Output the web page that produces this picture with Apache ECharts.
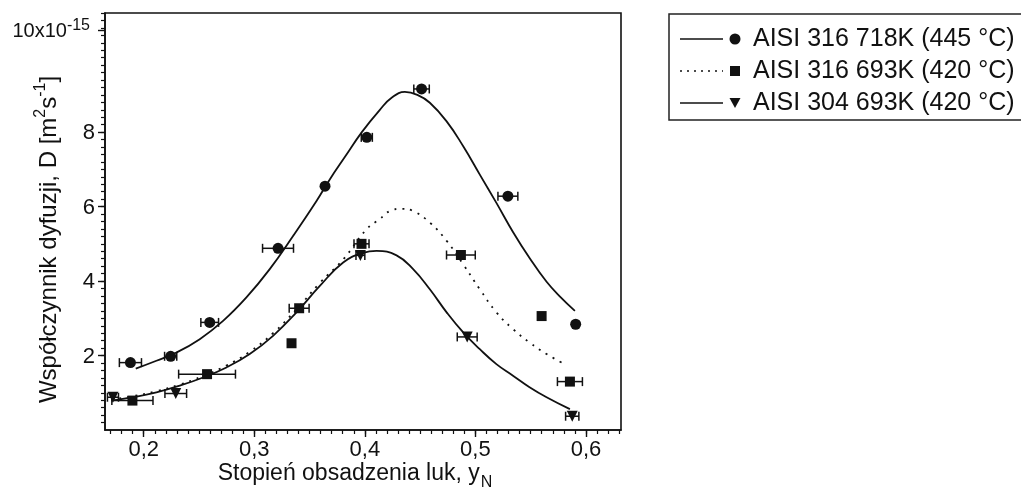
<!DOCTYPE html>
<html>
<head>
<meta charset="utf-8">
<script src="https://cdn.jsdelivr.net/npm/echarts@6/dist/echarts.min.js"></script>
<style>
  html, body { margin: 0; padding: 0; background: #ffffff; }
  #chart { width: 1021px; height: 491px; }
</style>
</head>
<body>
<div id="chart"></div>
<script>
// ---- measured points: x = occupancy y_N, y = D in 1e-15 m^2/s, xErr = half-width of the horizontal error bar
const seriesNames = ['AISI 316 718K (445 °C)', 'AISI 316 693K (420 °C)', 'AISI 304 693K (420 °C)'];

const x316_718 = [0.188, 0.2244, 0.2597, 0.3215, 0.364, 0.4018, 0.4513, 0.5294, 0.5907];
const y316_718 = [1.81, 1.98, 2.89, 4.88, 6.55, 7.86, 9.16, 6.28, 2.84];
const e316_718 = [0.010, 0.0055, 0.008, 0.014, 0, 0.005, 0.007, 0.009, 0];

const x316_693 = [0.1898, 0.2573, 0.3337, 0.3406, 0.397, 0.4869, 0.5599, 0.5855];
const y316_693 = [0.79, 1.50, 2.33, 3.27, 5.00, 4.70, 3.06, 1.30];
const e316_693 = [0.0186, 0.0257, 0, 0.009, 0.0068, 0.013, 0, 0.0113];

const x304_693 = [0.1722, 0.229, 0.396, 0.4926, 0.5876];
const y304_693 = [0.88, 0.98, 4.69, 2.50, 0.37];
const e304_693 = [0.005, 0.0098, 0.004, 0.009, 0.006];

// ---- fitted curves
const fitX316_718 = [0.1928, 0.2115, 0.2296, 0.2507, 0.2718, 0.2929, 0.314, 0.3351, 0.3563, 0.3683, 0.3819, 0.3973, 0.4136, 0.4245, 0.4362, 0.4475, 0.4588, 0.474, 0.489, 0.504, 0.519, 0.534, 0.549, 0.5644, 0.577, 0.590];
const fitY316_718 = [1.65, 1.86, 2.08, 2.44, 2.93, 3.56, 4.32, 5.21, 6.15, 6.73, 7.33, 8.00, 8.60, 8.93, 9.08, 9.00, 8.79, 8.29, 7.62, 6.86, 6.10, 5.32, 4.62, 3.98, 3.57, 3.20];

const fitX316_693 = [0.1708, 0.1903, 0.2115, 0.2326, 0.2537, 0.2748, 0.2959, 0.317, 0.3382, 0.3593, 0.3804, 0.4015, 0.4136, 0.4226, 0.4332, 0.4437, 0.4588, 0.474, 0.489, 0.504, 0.519, 0.534, 0.549, 0.5644, 0.5825];
const fitY316_693 = [0.82, 0.91, 1.04, 1.22, 1.45, 1.73, 2.10, 2.60, 3.24, 3.95, 4.58, 5.39, 5.67, 5.88, 5.94, 5.88, 5.57, 5.08, 4.45, 3.78, 3.16, 2.71, 2.35, 2.04, 1.74];

const fitX304_693 = [0.1708, 0.1903, 0.2115, 0.2326, 0.2537, 0.2748, 0.2959, 0.317, 0.3382, 0.3593, 0.3804, 0.3985, 0.4106, 0.4287, 0.4437, 0.4588, 0.474, 0.489, 0.504, 0.519, 0.534, 0.549, 0.5644, 0.5855];
const fitY304_693 = [0.79, 0.88, 1.01, 1.19, 1.41, 1.68, 2.04, 2.53, 3.16, 3.87, 4.50, 4.76, 4.81, 4.69, 4.32, 3.78, 3.16, 2.62, 2.17, 1.77, 1.46, 1.15, 0.88, 0.56];

// ---- axes
const xRange = [0.165, 0.6317];
const yRange = [0, 11.2];
const xTickValues = [0.2, 0.3, 0.4, 0.5, 0.6];
const xTickLabels = ['0,2', '0,3', '0,4', '0,5', '0,6'];
const yTickValues = [2, 4, 6, 8, 10.75];   // the scale-factor label sits at the top end of the axis
const yTickLabels = ['2', '4', '6', '8', '10x10^-15'];

const ink = '#111111';
const font = '"Liberation Sans", Arial, Helvetica, sans-serif';

function zip(xs, ys) { return xs.map((x, i) => [x, ys[i]]); }
function zip3(xs, ys, es) {
  return xs.map((x, i) => [x, ys[i], es[i]]).filter(d => d[2] > 0);
}
function range(a, b, step) {
  const out = [];
  for (let v = a; v <= b + 1e-9; v += step) out.push(Math.round(v * 1000) / 1000);
  return out;
}

// plain numbers use style "a"; a "base^exp" label uses style "b" with a raised exponent
function labelRich(text) {
  const m = text.match(/^(.*)\^(.*)$/);
  if (m) return '{b|' + m[1] + '}{sup|' + m[2] + '}';
  return '{a|' + text + '}';
}

const errorBars = (data) => ({
  type: 'custom',
  data: data,
  z: 3,
  encode: { x: 0, y: 1 },
  renderItem(params, api) {
    const x = api.value(0), y = api.value(1), e = api.value(2);
    const a = api.coord([x - e, y]);
    const b = api.coord([x + e, y]);
    const h = 4.5;
    const style = { stroke: ink, lineWidth: 1.5, fill: null };
    return {
      type: 'group',
      children: [
        { type: 'line', shape: { x1: a[0], y1: a[1], x2: b[0], y2: b[1] }, style },
        { type: 'line', shape: { x1: a[0], y1: a[1] - h, x2: a[0], y2: a[1] + h }, style },
        { type: 'line', shape: { x1: b[0], y1: b[1] - h, x2: b[0], y2: b[1] + h }, style }
      ]
    };
  }
});

const fitLine = (name, xs, ys, dash) => ({
  type: 'line',
  name: name,
  data: zip(xs, ys),
  smooth: 0.45,
  symbol: 'none',
  z: 2,
  lineStyle: { color: ink, width: 1.8, type: dash || 'solid' }
});

const points = (name, xs, ys, symbol, size, rotate) => ({
  type: 'scatter',
  name: name,
  data: zip(xs, ys),
  symbol: symbol,
  symbolSize: size,
  symbolRotate: rotate || 0,
  z: 4,
  itemStyle: { color: ink, opacity: 1 }
});

// ---- legend, drawn as a framed block at the upper right
const legendX = 669, legendTop = 14, legendRows = [39, 71, 103];
const legendMarker = [
  { type: 'circle', shape: { cx: 735, cy: legendRows[0], r: 5.5 }, style: { fill: ink } },
  { type: 'rect', shape: { x: 730, y: legendRows[1] - 5, width: 10, height: 10 }, style: { fill: ink } },
  { type: 'polygon', shape: { points: [[729.5, legendRows[2] - 5], [740.5, legendRows[2] - 5], [735, legendRows[2] + 5]] }, style: { fill: ink } }
];
const legendGraphics = [
  { type: 'rect', shape: { x: legendX, y: legendTop, width: 420, height: 106 }, style: { fill: '#fff', stroke: '#222', lineWidth: 1.5 } }
];
legendRows.forEach((ry, i) => {
  legendGraphics.push({
    type: 'line',
    shape: { x1: 680, y1: ry, x2: 723, y2: ry },
    style: { stroke: ink, lineWidth: 1.6, lineDash: i === 1 ? [2, 5] : null }
  });
  legendGraphics.push(legendMarker[i]);
  legendGraphics.push({
    type: 'text',
    x: 753, y: ry,
    style: { text: seriesNames[i], fill: ink, font: '25px ' + font, textVerticalAlign: 'middle', textAlign: 'left' }
  });
});

const chart = echarts.init(document.getElementById('chart'), null, { renderer: 'canvas' });

chart.setOption({
  animation: false,
  backgroundColor: '#ffffff',
  textStyle: { fontFamily: font },
  grid: {
    left: 105, right: 400, top: 13, bottom: 61,
    containLabel: false, outerBoundsMode: 'none',
    show: true, borderColor: ink, borderWidth: 1.6, backgroundColor: 'transparent'
  },
  xAxis: [
    {
      type: 'value', min: xRange[0], max: xRange[1],
      position: 'bottom',
      axisLine: { show: true, onZero: false, lineStyle: { color: ink, width: 1.6 } },
      axisTick: { show: true, customValues: xTickValues, length: 7, lineStyle: { color: ink, width: 1.4 } },
      axisLabel: {
        customValues: xTickValues,
        formatter: v => xTickLabels[xTickValues.findIndex(t => Math.abs(t - v) < 1e-6)],
        color: ink, fontSize: 22, fontFamily: font, margin: 9
      },
      splitLine: { show: false },
      name: '{a|Stopień obsadzenia luk, y}{sub|N}',
      nameLocation: 'middle',
      nameGap: 32,
      nameMoveOverlap: false,
      nameTextStyle: {
        color: ink, fontFamily: font, padding: [0, 16, 0, 0],
        rich: {
          a: { fontSize: 23, fontFamily: font, color: ink, lineHeight: 25, verticalAlign: 'top' },
          sub: { fontSize: 16, fontFamily: font, color: ink, lineHeight: 17, verticalAlign: 'top', padding: [13, 0, 0, 1] }
        }
      }
    },
    {
      // minor ticks every 0.01
      type: 'value', min: xRange[0], max: xRange[1],
      position: 'bottom',
      axisLine: { show: false },
      axisTick: { show: true, customValues: range(0.17, 0.63, 0.01), length: 4, lineStyle: { color: ink, width: 1.2 } },
      axisLabel: { show: false },
      splitLine: { show: false }
    }
  ],
  yAxis: [
    {
      type: 'value', min: yRange[0], max: yRange[1],
      position: 'left',
      axisLine: { show: true, onZero: false, lineStyle: { color: ink, width: 1.6 } },
      axisTick: { show: true, customValues: yTickValues, length: 7, lineStyle: { color: ink, width: 1.4 } },
      axisLabel: {
        customValues: yTickValues,
        formatter: v => labelRich(yTickLabels[yTickValues.findIndex(t => Math.abs(t - v) < 1e-6)]),
        margin: 10,
        rich: {
          a: { fontSize: 22, fontFamily: font, color: ink, lineHeight: 24, verticalAlign: 'bottom' },
          b: { fontSize: 20, fontFamily: font, color: ink, lineHeight: 24, verticalAlign: 'bottom' },
          sup: { fontSize: 16, fontFamily: font, color: ink, lineHeight: 16, verticalAlign: 'top', padding: [0, 5, 10, 0] }
        }
      },
      splitLine: { show: false },
      name: '{a|Współczynnik dyfuzji, D [m}{sup|2}{a|s}{sup|-1}{a|]}',
      nameLocation: 'middle',
      nameRotate: 90,
      nameGap: 44,
      nameMoveOverlap: false,
      nameTextStyle: {
        color: ink, fontFamily: font, padding: [0, 36, 0, 0],
        rich: {
          a: { fontSize: 24, fontFamily: font, color: ink, lineHeight: 28, verticalAlign: 'bottom' },
          sup: { fontSize: 16, fontFamily: font, color: ink, lineHeight: 16, verticalAlign: 'top', padding: [0, 0, 12, 0] }
        }
      }
    },
    {
      // minor ticks every 0.2
      type: 'value', min: yRange[0], max: yRange[1],
      position: 'left',
      axisLine: { show: false },
      axisTick: { show: true, customValues: range(0.2, 11.2, 0.2), length: 4, lineStyle: { color: ink, width: 1.2 } },
      axisLabel: { show: false },
      splitLine: { show: false }
    }
  ],
  graphic: legendGraphics,
  series: [
    fitLine(seriesNames[0], fitX316_718, fitY316_718),
    fitLine(seriesNames[1], fitX316_693, fitY316_693, [2, 6]),
    fitLine(seriesNames[2], fitX304_693, fitY304_693),
    errorBars(zip3(x316_718, y316_718, e316_718)),
    errorBars(zip3(x316_693, y316_693, e316_693)),
    errorBars(zip3(x304_693, y304_693, e304_693)),
    points(seriesNames[0], x316_718, y316_718, 'circle', 11),
    points(seriesNames[1], x316_693, y316_693, 'rect', 10),
    points(seriesNames[2], x304_693, y304_693, 'triangle', 11, 180)
  ]
});
</script>
</body>
</html>
